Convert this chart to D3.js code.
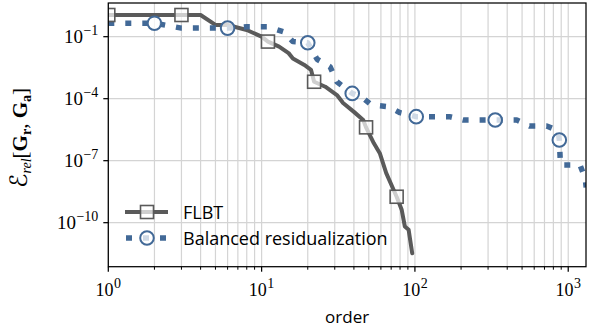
<!DOCTYPE html>
<html>
<head>
<meta charset="utf-8">
<script src="https://cdn.jsdelivr.net/npm/d3@7"></script>
<style>
  html, body { margin: 0; padding: 0; background: #fff; }
  svg { display: block; }
</style>
</head>
<body>
<svg id="chart" width="594" height="333"></svg>
<script>
// Relative error of reduced models versus model order
const flbtOrders = [1, 3, 4, 5, 6, 8, 10, 11, 13, 15, 16, 19, 21, 22, 26, 31, 34, 40, 46, 48, 54, 59, 65, 76, 82, 86, 91, 96];
const flbtValues = [1.12, 1.12, 1.12, 0.37, 0.37, 0.21, 0.1, 0.058, 0.033, 0.016, 8.9e-3, 4.3e-3, 2.5e-3, 6.6e-4,
                    3.8e-4, 1.5e-4, 6.2e-5, 2.3e-5, 9.3e-6, 4.1e-6, 6.9e-7, 2.3e-7, 2.5e-8, 1.8e-9,
                    4.2e-10, 6.5e-11, 4.5e-11, 3.3e-12];
const flbtMarkerOrders = [1, 3, 11, 22, 48, 76];

const brOrders = [1, 2, 3, 6, 8, 11, 14, 16, 20, 23, 28, 31, 39, 45, 52, 67, 80, 102, 168, 207, 334, 462,
                  558, 724, 860, 875, 890, 1194, 1290, 1310];
const brValues = [0.45, 0.45, 0.26, 0.26, 0.30, 0.30, 0.17, 0.058, 0.051, 8.1e-3, 3.5e-3, 6.6e-4, 1.8e-4,
                  1.2e-4, 5.0e-5, 4.1e-5, 2.1e-5, 1.35e-5, 1.35e-5, 9.3e-6, 9.3e-6, 9.3e-6, 4.8e-6, 4.8e-6,
                  2.8e-6, 1.0e-6, 6.2e-8, 6.2e-8, 1.4e-8, 5e-9];
const brMarkerOrders = [2, 6, 20, 39, 102, 334, 875];

const xMajorTicks = [1, 10, 100, 1000];
const yMajorTicks = [1e-1, 1e-4, 1e-7, 1e-10];
const seriesNames = ["FLBT", "Balanced residualization"];

const svg = d3.select("#chart");
const plot = { left: 108.3, right: 586, top: 3, bottom: 266.7 };

const x = d3.scaleLog().domain([1, 1306]).range([plot.left, plot.right]);
const y = d3.scaleLog().domain([Math.pow(10, -12.13), Math.pow(10, 0.63)]).range([plot.bottom, plot.top]);

const gridColor = "#d4d4d4";
const grayLine = "#5a5a5a";
const blue = "#426997";
const serif = "'Liberation Serif', 'DejaVu Serif', serif";
const sans = "'Open Sans', 'DejaVu Sans', sans-serif";

svg.append("defs").append("clipPath").attr("id", "plot-clip")
  .append("rect")
  .attr("x", plot.left).attr("y", plot.top)
  .attr("width", plot.right - plot.left).attr("height", plot.bottom - plot.top);

// minor x positions: 2..9 of every decade inside the domain
const xMinor = [];
for (let d = 1; d <= 1000; d *= 10) {
  for (let k = 2; k <= 9; k++) {
    const v = d * k;
    if (v <= 1306) xMinor.push(v);
  }
}

// grid
const grid = svg.append("g");
grid.selectAll("line.vx").data(xMajorTicks.concat(xMinor)).join("line")
  .attr("x1", d => x(d)).attr("x2", d => x(d))
  .attr("y1", plot.top).attr("y2", plot.bottom)
  .attr("stroke", gridColor).attr("stroke-width", 1.2);
grid.selectAll("line.hy").data(yMajorTicks).join("line")
  .attr("x1", plot.left).attr("x2", plot.right)
  .attr("y1", d => y(d)).attr("y2", d => y(d))
  .attr("stroke", gridColor).attr("stroke-width", 1.2);

// series
const flbt = flbtOrders.map((o, i) => ({ o, v: flbtValues[i] }));
const br = brOrders.map((o, i) => ({ o, v: brValues[i] }));
const line = d3.line().x(d => x(d.o)).y(d => y(d.v));

const series = svg.append("g").attr("clip-path", "url(#plot-clip)");
series.append("path").datum(flbt).attr("d", line)
  .attr("fill", "none").attr("stroke", grayLine).attr("stroke-width", 4)
  .attr("stroke-linejoin", "round").attr("stroke-linecap", "round");

series.append("path").datum(br).attr("d", line)
  .attr("fill", "none").attr("stroke", blue).attr("stroke-width", 5.5)
  .attr("stroke-dasharray", "6 11").attr("stroke-linejoin", "round");

const sq = 13;
series.selectAll("rect.flbt-m").data(flbt.filter(d => flbtMarkerOrders.includes(d.o))).join("rect")
  .attr("x", d => x(d.o) - sq / 2).attr("y", d => y(d.v) - sq / 2)
  .attr("width", sq).attr("height", sq)
  .attr("fill", "#fff").attr("fill-opacity", 0.7)
  .attr("stroke", grayLine).attr("stroke-width", 1.6);

series.selectAll("circle.br-m").data(br.filter(d => brMarkerOrders.includes(d.o))).join("circle")
  .attr("cx", d => x(d.o)).attr("cy", d => y(d.v)).attr("r", 6.8)
  .attr("fill", "#fff").attr("fill-opacity", 0.75)
  .attr("stroke", blue).attr("stroke-width", 2);

// axes frame
svg.append("rect")
  .attr("x", plot.left).attr("y", plot.top)
  .attr("width", plot.right - plot.left).attr("height", plot.bottom - plot.top)
  .attr("fill", "none").attr("stroke", "#000").attr("stroke-width", 1.25);

// ticks
const axes = svg.append("g");
axes.selectAll("line.xmaj").data(xMajorTicks).join("line")
  .attr("x1", d => x(d)).attr("x2", d => x(d))
  .attr("y1", plot.bottom).attr("y2", plot.bottom + 5)
  .attr("stroke", "#000").attr("stroke-width", 1.25);
axes.selectAll("line.xmin").data(xMinor).join("line")
  .attr("x1", d => x(d)).attr("x2", d => x(d))
  .attr("y1", plot.bottom).attr("y2", plot.bottom + 3)
  .attr("stroke", "#000").attr("stroke-width", 1);
axes.selectAll("line.ymaj").data(yMajorTicks).join("line")
  .attr("x1", plot.left - 5).attr("x2", plot.left)
  .attr("y1", d => y(d)).attr("y2", d => y(d))
  .attr("stroke", "#000").attr("stroke-width", 1.25);

function powLabel(sel, exp) {
  sel.append("tspan").text("10");
  sel.append("tspan").attr("dy", -8).attr("dx", 0.5).attr("font-size", 14)
    .text(String(exp).replace("-", "\u2212"));
}

axes.selectAll("text.xl").data(xMajorTicks).join("text")
  .attr("x", d => x(d)).attr("y", 296)
  .attr("text-anchor", "middle")
  .attr("font-family", serif).attr("font-size", 18).attr("fill", "#000")
  .each(function (d) { powLabel(d3.select(this), Math.round(Math.log10(d))); });

axes.selectAll("text.yl").data(yMajorTicks).join("text")
  .attr("x", plot.left - 10).attr("y", d => y(d) + 6.5)
  .attr("text-anchor", "end")
  .attr("font-family", serif).attr("font-size", 19).attr("fill", "#000")
  .each(function (d) { powLabel(d3.select(this), Math.round(Math.log10(d))); });

// axis titles
svg.append("text")
  .attr("x", (plot.left + plot.right) / 2).attr("y", 323)
  .attr("text-anchor", "middle")
  .attr("font-family", sans).attr("font-size", 17).attr("fill", "#000")
  .text("order");

const yTitle = svg.append("text")
  .attr("transform", `translate(27, 138) rotate(-90)`)
  .attr("text-anchor", "middle")
  .attr("font-family", serif).attr("font-size", 21).attr("fill", "#000");
yTitle.append("tspan").attr("font-family", "'DejaVu Sans', 'DejaVu Serif', serif")
  .attr("font-size", 24).text("\u2130");
yTitle.append("tspan").attr("font-style", "italic").attr("font-size", 14).attr("dy", 4).text("rel");
yTitle.append("tspan").attr("dy", -4).text("[");
yTitle.append("tspan").attr("font-weight", "bold").text("G");
yTitle.append("tspan").attr("font-weight", "bold").attr("font-size", 14).attr("dy", 4).text("r");
yTitle.append("tspan").attr("dy", -4).text(", ");
yTitle.append("tspan").attr("font-weight", "bold").text("G");
yTitle.append("tspan").attr("font-weight", "bold").attr("font-size", 14).attr("dy", 4).text("a");
yTitle.append("tspan").attr("dy", -4).text("]");

// legend
const legend = svg.append("g");
const lx0 = 125, lx1 = 168, lxm = 147;
const rows = [212, 238];
legend.append("line").attr("x1", lx0).attr("x2", lx1).attr("y1", rows[0]).attr("y2", rows[0])
  .attr("stroke", grayLine).attr("stroke-width", 4);
legend.append("rect").attr("x", lxm - sq / 2).attr("y", rows[0] - sq / 2).attr("width", sq).attr("height", sq)
  .attr("fill", "#fff").attr("fill-opacity", 0.7).attr("stroke", grayLine).attr("stroke-width", 1.6);
legend.append("line").attr("x1", lx0 + 1).attr("x2", lx1).attr("y1", rows[1]).attr("y2", rows[1])
  .attr("stroke", blue).attr("stroke-width", 5.5).attr("stroke-dasharray", "6 11");
legend.append("circle").attr("cx", lxm).attr("cy", rows[1]).attr("r", 6.8)
  .attr("fill", "#fff").attr("fill-opacity", 0.75).attr("stroke", blue).attr("stroke-width", 2);
legend.selectAll("text").data(seriesNames).join("text")
  .attr("x", 183).attr("y", (d, i) => rows[i] + 6.5)
  .attr("font-family", sans).attr("font-size", 18).attr("fill", "#000")
  .text(d => d);
</script>
</body>
</html>
